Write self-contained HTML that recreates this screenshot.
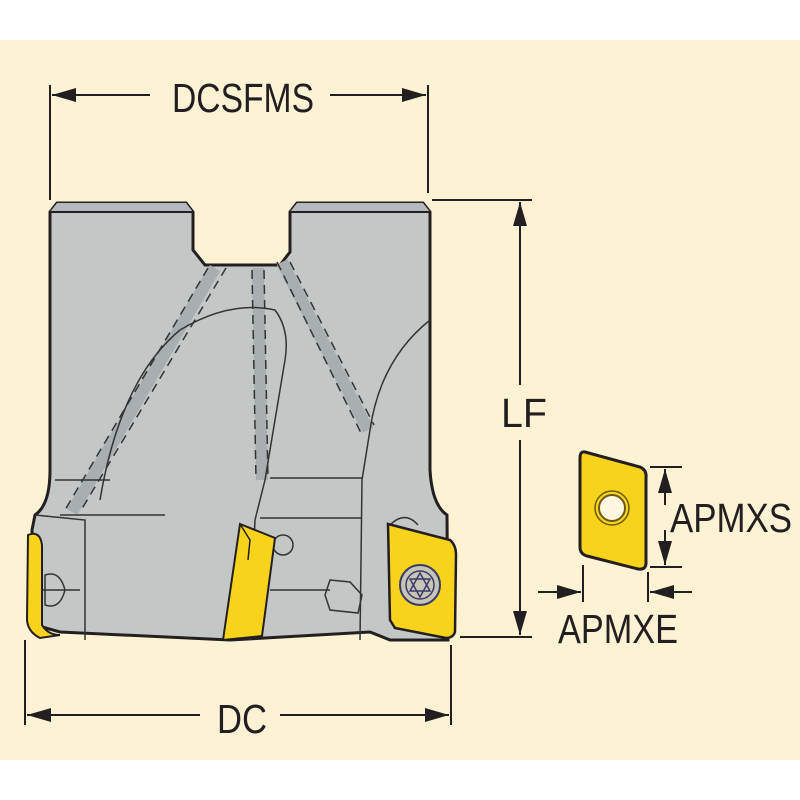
<!DOCTYPE html>
<html><head><meta charset="utf-8"><style>
html,body{margin:0;padding:0;background:#fff}
svg{display:block}
text{font-family:"Liberation Sans",Arial,sans-serif;fill:#231f20}
</style></head><body>
<svg width="800" height="800" viewBox="0 0 800 800" xmlns="http://www.w3.org/2000/svg">
<defs>
<marker id="a" viewBox="0 0 10 10" refX="10" refY="5" markerWidth="10" markerHeight="10" markerUnits="userSpaceOnUse" orient="auto-start-reverse">
<path d="M0,0 L10,5 L0,10 z" fill="#231f20"/></marker>
<marker id="b" viewBox="0 0 24 14" refX="24" refY="7" markerWidth="24" markerHeight="14" markerUnits="userSpaceOnUse" orient="auto-start-reverse">
<path d="M0,0 L24,7 L0,14 z" fill="#231f20"/></marker>
</defs>
<rect x="0" y="40" width="800" height="720" fill="#fdf3d4"/>

<!-- body -->
<path d="M50,212 L57,203 L186,203 L193,212 L193,250 L205,265 L280,265 L290,252 L290,212 L297,203 L423,203 L430,212 L430,470 Q432,505 447,515 L448,640 L390,640 L370,632 L230,640 L60,632 L35,625 L32,530 L35,515 Q50,505 50,470 Z" fill="#c3c8c7" stroke="#231f20" stroke-width="3"/>
<path d="M57,203 L186,203 L193,212 L50,212 Z M297,203 L423,203 L430,212 L290,212 Z" fill="#b5b9bd"/>
<line x1="50" y1="212" x2="193" y2="212" stroke="#231f20" stroke-width="2"/>
<line x1="290" y1="212" x2="430" y2="212" stroke="#231f20" stroke-width="2"/>
<!-- coolant channels -->
<g stroke="#a9aeb0" stroke-width="12" fill="none">
<line x1="215" y1="268" x2="72" y2="512"/>
<line x1="258" y1="268" x2="262" y2="480"/>
<line x1="282" y1="262" x2="368" y2="430"/>
</g>
<g stroke="#333" stroke-width="1.5" fill="none" stroke-dasharray="9,6">
<line x1="208" y1="268" x2="65" y2="510"/><line x1="226" y1="268" x2="80" y2="512"/>
<line x1="252" y1="270" x2="256" y2="480"/><line x1="264" y1="270" x2="268" y2="480"/>
<line x1="277" y1="262" x2="362" y2="435"/><line x1="290" y1="262" x2="374" y2="425"/>
</g>
<g stroke="#333" stroke-width="1.5" fill="none">
<path d="M100,500 Q120,380 180,330 Q230,300 275,310 Q290,330 285,360 L265,480 L255,520 L250,640"/>
<path d="M430,320 Q380,360 370,430 L362,480 L360,640"/>
<path d="M85,640 L85,520 L35,515"/>
<path d="M90,640 Q80,600 80,520 L35,515" stroke="none"/>
<line x1="55" y1="480" x2="110" y2="480"/>
<line x1="270" y1="478" x2="362" y2="478"/>
<line x1="260" y1="518" x2="362" y2="518"/>
<line x1="40" y1="590" x2="80" y2="590"/>
<line x1="270" y1="590" x2="330" y2="590"/>
<path d="M330,580 L350,582 L362,595 L358,613 L330,610 L325,595 Z"/>
<circle cx="283" cy="545" r="10"/>
<path d="M45,575 Q60,570 65,590 Q60,610 45,605 Z"/>
<path d="M390,525 Q405,510 418,525"/>
<line x1="60" y1="515" x2="165" y2="515"/>
</g>
<!-- yellow inserts on tool -->
<path d="M28,535 Q40,530 42,545 L42,625 Q48,635 60,635 L40,638 Q28,632 27,620 Z" fill="#f8d31c" stroke="#231f20" stroke-width="2"/>
<path d="M240,524 L275,538 L262,636 L223,640 Z" fill="#f8d31c" stroke="#231f20" stroke-width="2"/>
<path d="M240,524 L250,540 L248,560" fill="none" stroke="#231f20" stroke-width="1.5"/>
<path d="M388,524 L450,540 Q456,545 456,555 L455,632 Q453,638 446,638 L395,628 L390,620 Z" fill="#f8d31c" stroke="#231f20" stroke-width="2.5"/>
<circle cx="420" cy="585" r="20" fill="#c7c5b5" stroke="#3a3a6a" stroke-width="2"/>
<circle cx="420" cy="585" r="14" fill="none" stroke="#3a3a6a" stroke-width="1.5"/>
<path d="M420,573 L430,591 L410,591 Z M420,597 L430,579 L410,579 Z" fill="none" stroke="#3a3a6a" stroke-width="1.5"/>

<!-- dimensions -->
<g stroke="#231f20" stroke-width="2" fill="none">
<line x1="50" y1="85" x2="50" y2="200"/>
<line x1="428" y1="85" x2="428" y2="193"/>
<line x1="52" y1="95" x2="150" y2="95" marker-start="url(#b)"/>
<line x1="330" y1="95" x2="426" y2="95" marker-end="url(#b)"/>
<line x1="432" y1="200" x2="532" y2="200"/>
<line x1="460" y1="637" x2="532" y2="637"/>
<line x1="520" y1="202" x2="520" y2="385" marker-start="url(#b)"/>
<line x1="520" y1="440" x2="520" y2="635" marker-end="url(#b)"/>
<line x1="25" y1="640" x2="25" y2="725"/>
<line x1="451" y1="645" x2="451" y2="725"/>
<line x1="27" y1="715" x2="200" y2="715" marker-start="url(#b)"/>
<line x1="280" y1="715" x2="449" y2="715" marker-end="url(#b)"/>
<line x1="650" y1="467" x2="682" y2="467"/>
<line x1="650" y1="567" x2="682" y2="567"/>
<line x1="665" y1="469" x2="665" y2="505" marker-start="url(#b)"/>
<line x1="665" y1="530" x2="665" y2="565" marker-end="url(#b)"/>
<line x1="583" y1="565" x2="583" y2="602"/>
<line x1="648" y1="572" x2="648" y2="602"/>
<line x1="538" y1="592" x2="581" y2="592" marker-end="url(#b)"/>
<line x1="692" y1="592" x2="650" y2="592" marker-end="url(#b)"/>
</g>
<!-- standalone insert -->
<path d="M585,452 L640,467 Q647,470 646,478 L646,563 Q646,570 638,569 L587,556 Q580,554 580,547 L580,458 Q580,451 585,452 Z" fill="#f8d31c" stroke="#231f20" stroke-width="3"/>
<circle cx="612" cy="508" r="17" fill="none" stroke="#6b5a10" stroke-width="1.5"/>
<circle cx="612" cy="508" r="13" fill="#fff8e0" stroke="#6b5a10" stroke-width="2"/>

<g font-size="41">
<text x="172" y="112" textLength="142" lengthAdjust="spacingAndGlyphs">DCSFMS</text>
<text x="501" y="427" textLength="46" lengthAdjust="spacingAndGlyphs">LF</text>
<text x="217" y="733" textLength="50" lengthAdjust="spacingAndGlyphs">DC</text>
<text x="670" y="532" textLength="122" lengthAdjust="spacingAndGlyphs">APMXS</text>
<text x="558" y="643" textLength="120" lengthAdjust="spacingAndGlyphs">APMXE</text>
</g>
</svg>
</body></html>
